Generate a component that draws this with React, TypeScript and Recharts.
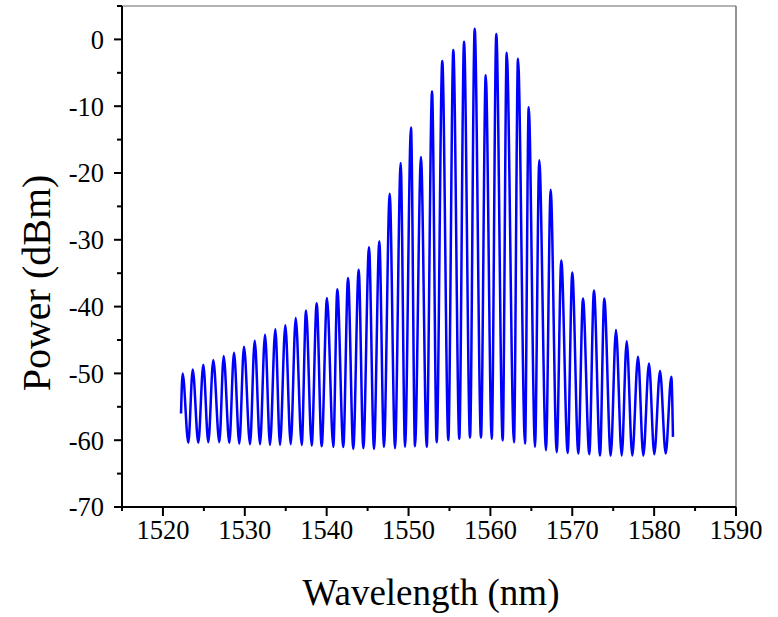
import React from 'react';
import { LineChart, Line, XAxis, YAxis, ReferenceLine, Label } from 'recharts';

// Peak (mode) wavelengths in nm and powers in dBm
const peakWavelength = [
  1522.41, 1523.64, 1524.93, 1526.15, 1527.42, 1528.68, 1529.9, 1531.21, 1532.47, 1533.73,
  1534.95, 1536.22, 1537.48, 1538.78, 1540.04, 1541.3, 1542.61, 1543.91, 1545.17, 1546.43,
  1547.7, 1549.04, 1550.3, 1551.52, 1552.87, 1554.12, 1555.47, 1556.78, 1558.08, 1559.43,
  1560.72, 1561.99, 1563.37, 1564.68, 1565.97, 1567.36, 1568.66, 1570.0, 1571.31, 1572.65,
  1573.91, 1575.34, 1576.65, 1578.03, 1579.37, 1580.72, 1582.1,
];
const peakPower = [
  -50.0, -49.4, -48.7, -48.0, -47.4, -46.9, -46.0, -45.1, -44.2, -43.4,
  -42.8, -41.7, -40.6, -39.5, -38.7, -37.4, -35.7, -34.5, -31.1, -30.2,
  -23.1, -18.5, -13.2, -17.6, -7.8, -3.25, -1.6, -0.35, 1.6, -5.35,
  0.8, -2.0, -2.9, -10.15, -18.1, -22.5, -33.1, -34.9, -38.8, -37.6,
  -38.8, -43.5, -45.2, -47.5, -48.5, -49.6, -50.5,
];
// Inter-mode minima
const valleyWavelength = [
  1523.1, 1524.32, 1525.54, 1526.89, 1528.11, 1529.33, 1530.64, 1531.86, 1533.08, 1534.3,
  1535.61, 1536.95, 1538.17, 1539.39, 1540.81, 1542.03, 1543.25, 1544.48, 1545.78, 1547.0,
  1548.35, 1549.57, 1550.79, 1552.22, 1553.44, 1554.86, 1556.2, 1557.51, 1558.85, 1560.16,
  1561.5, 1562.88, 1564.23, 1565.45, 1566.79, 1568.1, 1569.44, 1570.74, 1572.08, 1573.39,
  1574.7, 1576.04, 1577.33, 1578.68, 1580.02, 1581.41,
];
const valleyPower = [
  -60.4, -60.4, -60.3, -60.3, -60.4, -60.5, -60.6, -60.6, -60.7, -60.7,
  -60.6, -60.7, -60.8, -60.9, -61.0, -61.0, -61.3, -61.2, -61.3, -61.0,
  -61.2, -61.0, -60.9, -61.0, -60.3, -60.0, -59.8, -59.6, -59.6, -59.8,
  -60.0, -60.3, -60.5, -61.0, -61.5, -61.8, -61.9, -62.0, -62.1, -62.3,
  -62.3, -62.3, -62.3, -62.3, -62.1, -62.0,
];
// First and last recorded samples
const edgeWavelength = [1522.21, 1582.3];
const edgePower = [-56.0, -59.5];

const xMajorTicks = [1520, 1530, 1540, 1550, 1560, 1570, 1580, 1590];
const xMinorTicks = [1515, 1525, 1535, 1545, 1555, 1565, 1575, 1585];
const yMajorTicks = [-70, -60, -50, -40, -30, -20, -10, 0];
const yMinorTicks = [-65, -55, -45, -35, -25, -15, -5, 5];

const spectrum = [
  ...peakWavelength.map((wl, i) => ({ wl, power: peakPower[i] })),
  ...valleyWavelength.map((wl, i) => ({ wl, power: valleyPower[i] })),
  ...edgeWavelength.map((wl, i) => ({ wl, power: edgePower[i] })),
].sort((a, b) => a.wl - b.wl);

const FONT = 'Liberation Serif, Times New Roman, serif';

const XTick = (props: any) => {
  const { x, y, payload } = props;
  const major = xMajorTicks.includes(payload.value);
  return (
    <g>
      <line x1={x} x2={x} y1={y} y2={y + (major ? 9 : 4)} stroke="#000" strokeWidth={2} />
      {major && (
        <text x={x} y={y + 13} dy="0.71em" textAnchor="middle" style={{ fontFamily: FONT, fontSize: 26.5 }} fill="#000">
          {payload.value}
        </text>
      )}
    </g>
  );
};

const YTick = (props: any) => {
  const { x, y, payload } = props;
  const major = yMajorTicks.includes(payload.value);
  return (
    <g>
      <line x1={x - (major ? 8 : 5)} x2={x} y1={y} y2={y} stroke="#000" strokeWidth={2} />
      {major && (
        <text x={x - 18} y={y} dy="0.355em" textAnchor="end" style={{ fontFamily: FONT, fontSize: 26.5 }} fill="#000">
          {payload.value}
        </text>
      )}
    </g>
  );
};

export default function App() {
  return (
    <div style={{ position: 'absolute', left: 0, top: 0, background: '#fff' }}>
      <LineChart width={778} height={617} data={spectrum} margin={{ top: 6, right: 42, bottom: 0, left: 0 }}>
        <XAxis
          dataKey="wl"
          type="number"
          domain={[1515, 1590]}
          ticks={[...xMinorTicks, ...xMajorTicks].sort((a, b) => a - b)}
          interval={0}
          height={110}
          tickSize={0}
          tickMargin={0}
          tickLine={false}
          tick={<XTick />}
          axisLine={{ stroke: '#000', strokeWidth: 2 }}
          allowDataOverflow
        >
          <Label
            content={() => (
              <text x={431} y={605} textAnchor="middle" style={{ fontFamily: FONT, fontSize: 37 }} fill="#000">
                Wavelength (nm)
              </text>
            )}
          />
        </XAxis>
        <YAxis
          type="number"
          domain={[-70, 5]}
          ticks={[...yMinorTicks, ...yMajorTicks].sort((a, b) => a - b)}
          interval={0}
          width={122}
          tickSize={0}
          tickMargin={0}
          tickLine={false}
          tick={<YTick />}
          axisLine={{ stroke: '#000', strokeWidth: 2 }}
          allowDataOverflow
        >
          <Label
            content={() => (
              <text
                x={50}
                y={283}
                textAnchor="middle"
                transform="rotate(-90 50 283)"
                style={{ fontFamily: FONT, fontSize: 40 }}
                fill="#000"
              >
                Power (dBm)
              </text>
            )}
          />
        </YAxis>
        <ReferenceLine y={5} stroke="#b4b4b4" strokeWidth={2} />
        <ReferenceLine x={1590} stroke="#707070" strokeWidth={1.5} />
        <Line
          dataKey="power"
          type="monotone"
          stroke="#0000ff"
          strokeWidth={2.5}
          dot={false}
          isAnimationActive={false}
        />
      </LineChart>
    </div>
  );
}
